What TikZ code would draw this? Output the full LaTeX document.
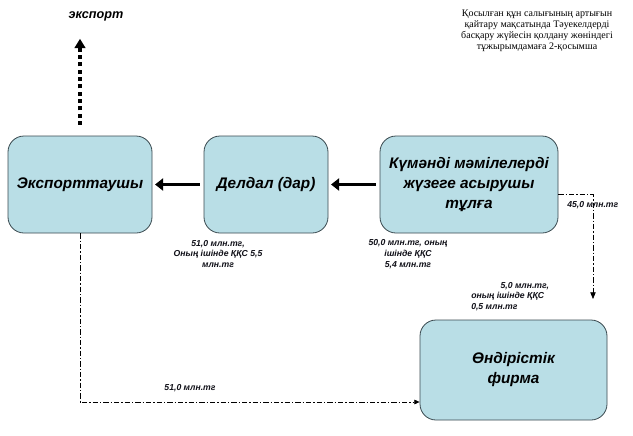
\documentclass[tikz,border=0pt]{standalone}
\usepackage{fontspec}
\setmainfont{Liberation Sans}
\newfontfamily\notefont{Liberation Serif}
\usetikzlibrary{arrows.meta,positioning}
\definecolor{boxteal}{HTML}{B9DEE6}
\definecolor{boxedge}{HTML}{3A4A50}
\definecolor{inkdark}{HTML}{101018}

\tikzset{
  unit/.style={draw=boxedge,line width=0.6pt,fill=boxteal,rounded corners=12pt,
    align=center,text=black,font=\fontsize{11.5}{15}\selectfont\bfseries\itshape,
    minimum height=72.75pt,inner sep=1pt},
  bigarrow/.style={line width=2.6pt,-{Triangle[length=6pt,width=9pt]}},
  flow/.style={line width=0.5pt,dash pattern=on 4pt off 1.5pt on 1pt off 1.5pt},
  sum/.style={font=\fontsize{6.5}{8}\selectfont\bfseries\itshape,text=inkdark,inner sep=0pt}
}

\begin{document}
\begin{tikzpicture}[x=0.75pt,y=-0.75pt]

\useasboundingbox (0,0) rectangle (633,436);
\fill[white] (0,0) rectangle (633,436);

% Note in the top right corner
\node[font=\notefont\fontsize{7.5}{8.25}\selectfont,align=center,anchor=north] (note) at (537,5)
  {Қосылған құн салығының артығын\\қайтару мақсатында Тәуекелдерді\\басқару жүйесін қолдану жөніндегі\\тұжырымдамаға 2-қосымша};

% ===== MAIN CHAIN =====
\node[unit,minimum width=108pt] (exporter) at (80,184.5) {Экспорттаушы};
\node[unit,minimum width=93pt] (broker) at (266,184.5) {Делдал (дар)};
\node[unit,minimum width=133.5pt] (dubious) at (469,184.5)
  {Күмәнді мәмілелерді\\жүзеге асырушы\\тұлға};
\node[unit,minimum width=140.25pt,minimum height=75pt] (producer) at (513.5,370)
  {Өндірістік\\фирма};

% Thick arrows between units
\draw[bigarrow,shorten <=3pt,shorten >=2pt] (broker) -- (exporter);
\draw[bigarrow,shorten <=3pt,shorten >=2pt] (dubious) -- (broker);

% Export
\node[font=\fontsize{9.5}{11}\selectfont\bfseries\itshape] (exportlbl) at (96,16) {экспорт};
\draw[line width=3pt,dash pattern=on 3pt off 2.5pt,shorten <=8pt,shorten >=10pt,
  -{Triangle[length=7pt,width=8pt]}] (exporter.north) -- (exporter.north |- exportlbl.south);

% Money flows
\draw[flow,-{Triangle[length=4pt,width=3.5pt]}] (exporter.south) |- (producer.west |- 0,402);
\coordinate (vatdrop) at (593,299);
\draw[flow,-{Triangle[length=5pt,width=4pt]}] ([yshift=-7.5pt]dubious.east) -| (vatdrop);

% Amounts
\node[sum,align=center] (sumbroker) at (218,254) {51,0 млн.тг,\\Оның ішінде ҚҚС 5,5\\млн.тг};
\node[sum,align=center] (sumdubious) at (408,254) {50,0 млн.тг, оның\\ішінде ҚҚС\\5,4 млн.тг};
\node[sum,anchor=west] (sumexport) at (567,205) {45,0 млн.тг};
\node[sum,align=left,anchor=north west] (sumvat) at (471,282)
  {\hspace*{22pt}5,0 млн.тг,\\оның ішінде ҚҚС\\0,5 млн.тг};
\node[sum] (sumproducer) at (190,388) {51,0 млн.тг};

\end{tikzpicture}
\end{document}
